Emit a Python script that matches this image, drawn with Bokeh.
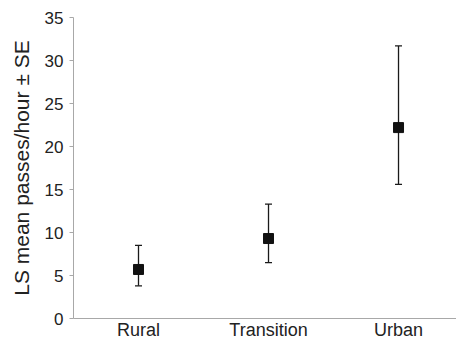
from bokeh.plotting import figure
from bokeh.models import Range1d, FixedTicker, ColumnDataSource, Whisker, TeeHead
from bokeh.embed import file_html
from bokeh.resources import INLINE

categories = ["Rural", "Transition", "Urban"]
means = [5.7, 9.3, 22.2]
upper = [8.5, 13.3, 31.7]
lower = [3.8, 6.5, 15.6]
y_ticks = [0, 5, 10, 15, 20, 25, 30, 35]

xpos = [i + 0.5 for i in range(len(categories))]
src = ColumnDataSource(dict(x=xpos, y=means, upper=upper, lower=lower))

p = figure(width=456, height=342, output_backend="svg", toolbar_location=None,
           x_range=Range1d(0, 2.946), y_range=Range1d(0, 35),
           min_border_left=73, min_border_right=0, min_border_top=17, min_border_bottom=0)
p.outline_line_color = None
p.grid.visible = False
p.background_fill_color = "white"

w = Whisker(source=src, base="x", upper="upper", lower="lower", dimension="height",
            line_color="#1a1a1a", line_width=1.3,
            upper_head=TeeHead(size=7, line_color="#1a1a1a", line_width=1.3),
            lower_head=TeeHead(size=7, line_color="#1a1a1a", line_width=1.3))
p.add_layout(w)
p.scatter("x", "y", source=src, marker="square", size=10, fill_color="#111111",
          line_color="#111111")

axis_color = "#a8a8a8"
text_color = "#222222"
font = "Liberation Sans"

p.xaxis.ticker = FixedTicker(ticks=xpos)
p.xaxis.major_label_overrides = {x: c for x, c in zip(xpos, categories)}
p.xaxis.major_tick_line_color = None
p.xaxis.minor_tick_line_color = None
p.xaxis.axis_line_color = axis_color
p.xaxis.major_label_text_font = font
p.xaxis.major_label_text_font_size = "18px"
p.xaxis.major_label_text_color = text_color
p.xaxis.major_label_text_line_height = 0.9
p.xaxis.major_label_standoff = -5

p.yaxis.ticker = FixedTicker(ticks=y_ticks)
p.yaxis.minor_tick_line_color = None
p.yaxis.axis_line_color = axis_color
p.yaxis.major_tick_line_color = axis_color
p.yaxis.major_tick_out = 4
p.yaxis.major_tick_in = 0
p.yaxis.major_label_text_font = font
p.yaxis.major_label_text_font_size = "17px"
p.yaxis.major_label_text_color = text_color
p.yaxis.major_label_standoff = 6
p.yaxis.axis_label = "LS mean passes/hour ± SE"
p.yaxis.axis_label_text_font = font
p.yaxis.axis_label_text_font_size = "21px"
p.yaxis.axis_label_text_font_style = "normal"
p.yaxis.axis_label_text_color = text_color
p.yaxis.axis_label_standoff = 9

open("out.html", "w").write(file_html(p, INLINE))
